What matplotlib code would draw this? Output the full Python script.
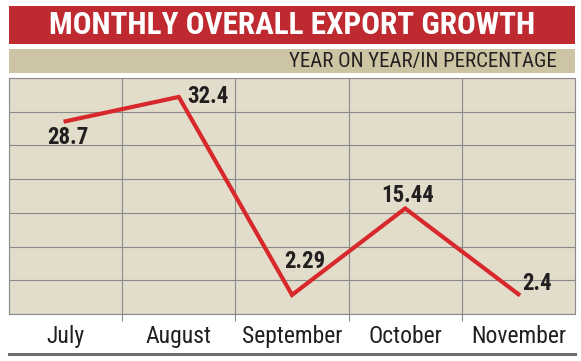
import matplotlib
matplotlib.use("Agg")
import matplotlib.pyplot as plt
from matplotlib.patches import Rectangle
from matplotlib.lines import Line2D
import numpy as np

# data
months = ["July", "August", "September", "October", "November"]
growth = [28.7, 32.4, 2.29, 15.44, 2.4]
# label offsets in points (dx, dy) and alignment
label_pos = [(2, -12, "center"), (6, 0, "left"), (9, 24, "center"), (2, 9, "center"), (3, 8, "left")]

title = "MONTHLY OVERALL EXPORT GROWTH"
subtitle = "YEAR ON YEAR/IN PERCENTAGE"

W, H = 581, 361
narrow = ["Roboto Condensed", "DejaVu Sans"]

fig = plt.figure(figsize=(W / 100, H / 100), dpi=100)
fig.patch.set_facecolor("white")

def fx(px):
    return px / W

def fy(py):
    return 1 - py / H

# header bands
fig.patches.append(Rectangle((fx(9), fy(44)), fx(566), 38 / H, transform=fig.transFigure,
                             facecolor="#BE2A2F", edgecolor="none"))
fig.patches.append(Rectangle((fx(9), fy(73)), fx(566), 24 / H, transform=fig.transFigure,
                             facecolor="#CCC4A2", edgecolor="none"))
fig.text(fx(292), fy(25), title, color="white", fontsize=22.5, fontweight="bold",
         family=narrow, ha="center", va="center")
fig.text(fx(557), fy(62), subtitle, color="#231F20", fontsize=15,
         family=narrow, ha="right", va="center")

# plot area
ax = fig.add_axes([fx(9), fy(314), fx(566), 236 / H])
ax.set_facecolor("#E2DCCB")
ymin, ymax = -0.61, 35.28
ax.set_ylim(ymin, ymax)
ax.set_xlim(-0.5, len(months) - 0.5)

x = np.arange(len(months))
ax.plot(x, growth, color="#D7282B", lw=3, solid_joinstyle="miter", zorder=3)

for xi, v, (dx, dy, ha) in zip(x, growth, label_pos):
    ax.annotate(f"{v:g}", (xi, v), xytext=(dx, dy), textcoords="offset points",
                ha=ha, va="center", fontsize=16.5, fontweight="bold",
                family=narrow, color="#231F20", zorder=4)

ax.set_yticks(np.linspace(ymin, ymax, 8))
ax.set_xticks(x)
ax.set_xticks(np.arange(0.5, len(months) - 1), minor=True)
ax.set_xticklabels(months, family=narrow, fontsize=17, color="#231F20")
ax.tick_params(axis="x", which="major", length=0, pad=8)
ax.tick_params(axis="x", which="minor", length=5, color="#8A8A8A", width=0.8)
ax.tick_params(axis="y", length=0, labelleft=False)
ax.grid(True, axis="y", color="#8A8A8A", lw=0.8)
ax.grid(True, axis="x", which="minor", color="#8A8A8A", lw=0.8)
ax.set_axisbelow(True)
for s in ax.spines.values():
    s.set_color("#8A8A8A")
    s.set_linewidth(0.8)

# bottom rule
fig.lines.append(Line2D([fx(9), fx(575)], [fy(354), fy(354)], transform=fig.transFigure,
                        color="#6E6E6E", lw=2.2))

fig.savefig("out.png", dpi=100)
